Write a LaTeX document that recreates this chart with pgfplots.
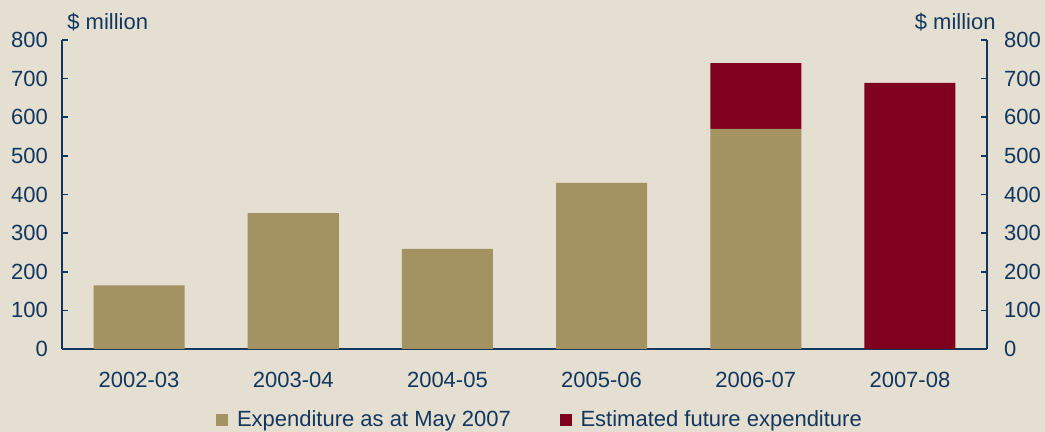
\documentclass[border=0pt]{standalone}
\usepackage{pgfplots}
\pgfplotsset{compat=1.18}
\usepackage{fontspec}
\setmainfont{Liberation Sans}
\definecolor{bg}{HTML}{E5DFD2}
\definecolor{tan}{HTML}{A39262}
\definecolor{wine}{HTML}{800020}
\definecolor{navy}{HTML}{12375F}
\newcommand{\fnt}{\fontsize{11}{12.8}\selectfont}
\pgfplotsset{
  common/.style={
    scale only axis, width=462.5pt, height=154.5pt,
    at={(0,0)}, anchor=south west,
    ymin=0, ymax=800, ytick={0,100,...,800},
    xmin=-0.5, xmax=5.5,
    tick align=inside,
    /pgf/number format/assume math mode=true,
    ticklabel style={font=\fnt, text=navy},
    axis line style={navy, line width=1pt},
    every tick/.style={navy, line width=0.8pt},
    major tick length=3pt,
  }
}
\begin{document}
\begin{tikzpicture}
\fill[bg] (-31pt,-41.5pt) rectangle (491.5pt,174.5pt);
\begin{axis}[common,
  axis x line*=bottom, axis y line*=left,
  xtick={0,...,5},
  xticklabels={2002-03,2003-04,2004-05,2005-06,2006-07,2007-08},
  x tick style={draw=none},
  minor xtick={0.5,1.5,...,4.5},
  minor tick length=3.5pt,
  minor x tick style={navy, line width=0.8pt},
  xticklabel style={yshift=-8pt},
  yticklabel style={xshift=-3.5pt},
  ybar stacked, bar width=45.5pt,
  legend columns=2,
  legend style={draw=none, fill=none, inner sep=0pt, at={(0.1665,-0.2298)}, anchor=west,
    font=\fontsize{11}{12.8}\selectfont, text=navy,
    nodes={inner xsep=4.5pt},
    /tikz/every even column/.append style={column sep=20pt}},
  legend image code/.code={\fill[#1] (0pt,-2.9pt) rectangle (5.8pt,2.9pt);},
  clip=false,
]
\addplot[fill=tan, draw=none] coordinates {(0,165) (1,352) (2,259) (3,430) (4,570) (5,0)};
\addlegendentry{Expenditure as at May 2007}
\addplot[fill=wine, draw=none] coordinates {(0,0) (1,0) (2,0) (3,0) (4,170) (5,689)};
\addlegendentry{Estimated future expenditure}
\node[anchor=base west, font=\fnt, text=navy, inner sep=0pt] at ([shift={(2.5pt,5.5pt)}]rel axis cs:0,1) {\$ million};
\node[anchor=base east, font=\fnt, text=navy, inner sep=0pt] at ([shift={(4.5pt,5.5pt)}]rel axis cs:1,1) {\$ million};
\end{axis}
\begin{axis}[common,
  axis x line=none, axis y line*=right,
  xtick=\empty,
  yticklabel style={xshift=5pt},
]
\addplot[draw=none] coordinates {(0,0)};
\end{axis}
\pgfresetboundingbox
\path[use as bounding box] (-31pt,-41.5pt) rectangle (491.5pt,174.5pt);
\end{tikzpicture}
\end{document}
